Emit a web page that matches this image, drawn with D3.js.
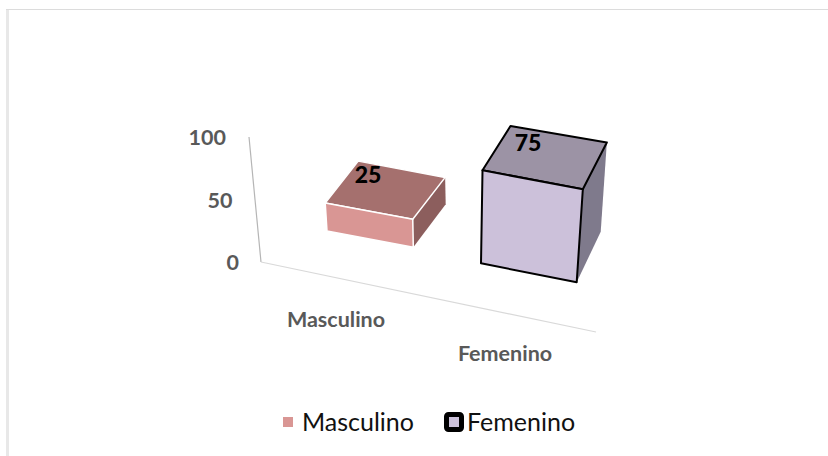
<!DOCTYPE html>
<html><head><meta charset="utf-8">
<script src="https://cdn.jsdelivr.net/npm/d3@7/dist/d3.min.js"></script>
<style>html,body{margin:0;padding:0;background:#fff}svg{display:block}text{font-family:Lato,"Open Sans",sans-serif}</style>
</head><body><svg id="c" width="828" height="456"></svg>
<script>
const categories = ["Masculino", "Femenino"];
const values = [25, 75];
const tickValues = [0, 50, 100];
const frontColors = ["#D99694", "#CCC1DA"];
const topColors = ["#A5706E", "#9C93A5"];
const sideColors = ["#8C5E5D", "#7F7A8C"];
const strokeColors = ["#FFFFFF", "#000000"];

const svg = d3.select("#c");
svg.append("line").attr("x1",7.5).attr("y1",9).attr("x2",7.5).attr("y2",456).attr("stroke","#e8e8e8").attr("stroke-width",3);
svg.append("line").attr("x1",6).attr("y1",9.5).attr("x2",828).attr("y2",9.5).attr("stroke","#dcdcdc").attr("stroke-width",1);

// Floor parameter: band positions along the category direction
const band = d3.scaleBand().domain(categories).range([0,1]).paddingInner(0.3).paddingOuter(0.15);
const edges = categories.flatMap(c => [band(c), band(c)+band.bandwidth()]);
const frontX = d3.scaleLinear().domain(edges).range([327,413.3,481,576.7]);
const frontY = d3.scaleLinear().domain(edges).range([231,247.3,263.3,282.3]);
const depthX = d3.scaleLinear().domain([327,413,481,577]).range([33,32.4,28,24]);
const depthY = d3.scaleLinear().domain([327,413,481,577]).range([-43,-43,-48,-50.6]);
const lean = d3.scaleLinear().domain([261,600]).range([-0.098,0.078]);
const height = d3.scaleLinear().domain([0,25,75,100]).range([0,28,93,125]);

function project(t, v, w){
  const bx = frontX(t), by = frontY(t), h = height(v);
  return [bx + w*depthX(bx) + lean(bx)*h, by + w*depthY(bx) - h*(1-0.04*w)];
}
const poly = pts => "M" + pts.map(p => p.join(",")).join("L") + "Z";

// Axes
const axisY = d3.scaleLinear().domain([0,100]).range([262,137]);
const axisX = d3.scaleLinear().domain([0,100]).range([261,249]);
const labelX = d3.scaleLinear().domain([0,100]).range([239,226]);
svg.append("line").attr("x1",axisX(0)).attr("y1",axisY(0)).attr("x2",axisX(100)).attr("y2",axisY(100)).attr("stroke","#b5b5b5").attr("stroke-width",1.2);
svg.append("line").attr("x1",axisX(0)).attr("y1",axisY(0)).attr("x2",596).attr("y2",332).attr("stroke","#d9d9d9").attr("stroke-width",1.2);
svg.selectAll(".tick").data(tickValues).join("text").attr("class","tick")
  .attr("x",d=>labelX(d)).attr("y",d=>axisY(d)+8).attr("text-anchor","end")
  .attr("font-size",21.5).attr("font-weight",700).attr("fill","#595959").text(d=>d);

// Boxes
const boxes = svg.selectAll(".box").data(categories).join("g").attr("class","box");
boxes.each(function(c,i){
  const g = d3.select(this), t0 = band(c), t1 = t0 + band.bandwidth(), v = values[i];
  const face = (pts, fill, stroke) => g.append("path").attr("d",poly(pts)).attr("fill",fill)
    .attr("stroke",stroke).attr("stroke-width",i?2:1.5).attr("stroke-linejoin","round");
  face([project(t1,0,0),project(t1,v,0),project(t1,v,1),project(t1,0,1)], sideColors[i], "none");
  face([project(t0,v,0),project(t1,v,0),project(t1,v,1),project(t0,v,1)], topColors[i], strokeColors[i]);
  face([project(t0,0,0),project(t1,0,0),project(t1,v,0),project(t0,v,0)], frontColors[i], strokeColors[i]);
});
// Data labels
const labelOffsetX = d3.scaleLinear().domain([25,75]).range([368,528]);
const labelOffsetY = d3.scaleLinear().domain([25,75]).range([183,151]);
svg.selectAll(".dl").data(values).join("text").attr("class","dl")
  .attr("x",d=>labelOffsetX(d)).attr("y",d=>labelOffsetY(d)).attr("text-anchor","middle")
  .attr("font-size",23).attr("font-weight",900).attr("fill","#000").text(d=>d);

// Category labels
const catX = d3.scaleOrdinal().domain(categories).range([336,505]);
const catY = d3.scaleOrdinal().domain(categories).range([327,361]);
svg.selectAll(".cat").data(categories).join("text").attr("class","cat")
  .attr("x",d=>catX(d)).attr("y",d=>catY(d)).attr("text-anchor","middle")
  .attr("font-size",21.5).attr("font-weight",700).attr("fill","#595959").text(d=>d);

// Legend
const legX = d3.scaleOrdinal().domain(categories).range([283,446.5]);
const legG = svg.selectAll(".leg").data(categories).join("g").attr("class","leg");
legG.append("rect")
  .attr("x",d=>legX(d)).attr("y",(d,i)=>i?414.5:417)
  .attr("width",(d,i)=>i?15:10).attr("height",(d,i)=>i?15:10)
  .attr("fill",(d,i)=>frontColors[i]).attr("stroke",(d,i)=>i?"#000":"none").attr("stroke-width",5).attr("rx",(d,i)=>i?2:0);
legG.append("text").attr("x",(d,i)=>i?467:302).attr("y",431)
  .attr("font-size",25).attr("fill","#111").text(d=>d);
</script></body></html>
